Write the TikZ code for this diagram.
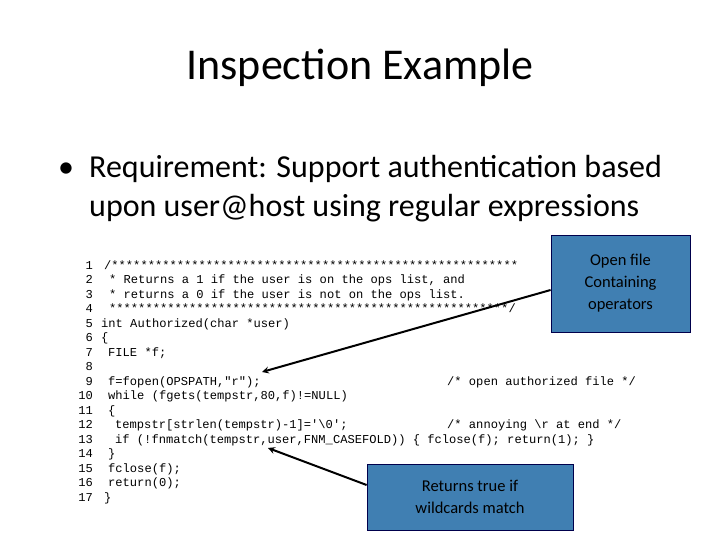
\documentclass[tikz,border=0pt]{standalone}
\usepackage{fontspec}
\setmainfont{Carlito}
\newfontfamily\codefont{Liberation Mono}
\usetikzlibrary{positioning}
\tikzset{
  code/.style={anchor=base west, inner sep=0pt, font=\codefont\fontsize{12.1}{13}\selectfont},
  lnum/.style={anchor=base east, inner sep=0pt, font=\codefont\fontsize{12.1}{13}\selectfont},
  callout/.style={draw=black!70!blue, line width=0.8pt, fill=blue!45!cyan!60!black!75, text=black, align=center, font=\fontsize{16.5}{22}\selectfont},
  pointer/.style={->, >=stealth, line width=2pt, black}
}
\begin{document}
\begin{tikzpicture}[x=1pt,y=-1pt]
\useasboundingbox (0,0) rectangle (720,540);

\node (title) at (360,68) {\fontsize{44}{50}\selectfont Inspection Example};
\node (bullet) [anchor=base west, inner sep=0pt] at (58,178) {\fontsize{32}{36}\selectfont\textbullet};
\node (req1) [anchor=base west, inner sep=0pt] at (89,178) {\fontsize{32}{36}\selectfont Requirement: Support authentication based};
\node (req2) [anchor=base west, inner sep=0pt] at (89,216) {\fontsize{32}{36}\selectfont upon user@host using regular expressions};

% line numbers
\foreach \n in {1,...,17}
  \node (n\n) [lnum] at (93,{269+14.5*(\n-1)}) {\n};

% code lines
\node (c1) [code] at (104,269) {/********************************************************};
\node (c2) [code] at (109,283.5) {* Returns a 1 if the user is on the ops list, and};
\node (c3) [code] at (109,298) {* returns a 0 if the user is not on the ops list.};
\node (c4) [code] at (109,312.5) {*******************************************************/};
\node (c5) [code] at (101,327) {int Authorized(char *user)};
\node (c6) [code] at (101,341.5) {\{};
\node (c7) [code] at (108,356) {FILE *f;};
\node (c9) [code] at (108,385) {f=fopen(OPSPATH,"r");};
\node (c10) [code] at (108,399.5) {while (fgets(tempstr,80,f)!=NULL)};
\node (c11) [code] at (108,414) {\{};
\node (c12) [code] at (115,428.5) {tempstr[strlen(tempstr)-1]='\textbackslash0';};
\node (c13) [code] at (115,443) {if (!fnmatch(tempstr,user,FNM\_CASEFOLD)) \{ fclose(f); return(1); \}};
\node (c14) [code] at (108,457.5) {\}};
\node (c15) [code] at (108,472) {fclose(f);};
\node (c16) [code] at (108,486.5) {return(0);};
\node (c17) [code] at (104,501) {\}};
% comments
\node (m9) [code] at (447,385) {/* open authorized file */};
\node (m12) [code] at (447,428.5) {/* annoying \textbackslash r at end */};

% callouts
\node (open) [callout, minimum width=139pt, minimum height=97pt] at (620.5,283.5) {Open file\\Containing\\operators};
\node (match) [callout, minimum width=206pt, minimum height=66pt] at (470,497) {Returns true if\\wildcards match};

\coordinate (openTip) at (262,372);
\coordinate (matchTip) at (268,448);
\draw [pointer] (open.west |- 0,290) -- (openTip);
\draw [pointer] (match.west |- 0,485) -- (matchTip);
\end{tikzpicture}
\end{document}
